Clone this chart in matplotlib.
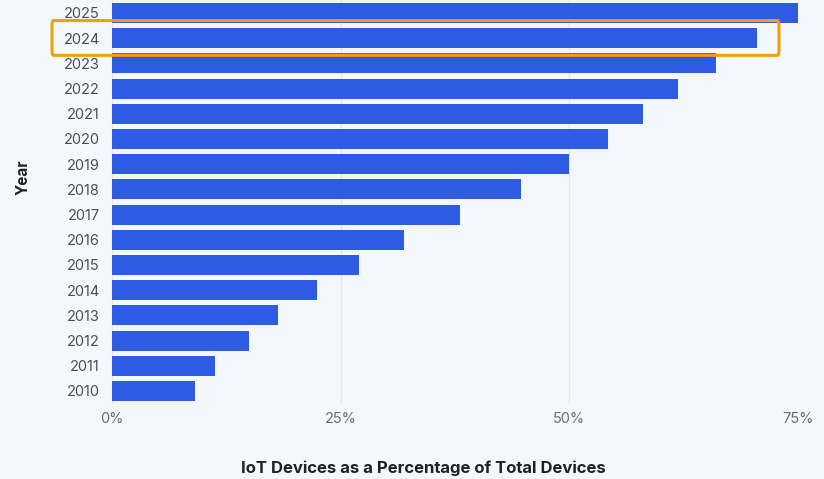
import matplotlib
matplotlib.use("Agg")
import matplotlib.pyplot as plt
from matplotlib.patches import FancyBboxPatch
from matplotlib.transforms import blended_transform_factory

years = ["2010", "2011", "2012", "2013", "2014", "2015", "2016", "2017",
         "2018", "2019", "2020", "2021", "2022", "2023", "2024", "2025"]
iot_share = [9.0, 11.2, 14.9, 18.1, 22.4, 27.0, 31.9, 38.0,
             44.7, 50.0, 54.2, 58.0, 61.9, 66.0, 70.5, 75.0]
x_ticks = [0, 25, 50, 75]
x_tick_labels = ["0%", "25%", "50%", "75%"]
highlight_year = "2024"

bg = "#F4F8FC"
bar_color = "#2D5BE3"

plt.rcParams["font.family"] = ["Inter", "DejaVu Sans"]

fig = plt.figure(figsize=(8.24, 4.79), dpi=100, facecolor=bg)
ax = fig.add_axes([112.3 / 824, 1 - 403.6 / 479, (798 - 112.3) / 824, (403.6 - 0.4) / 479])
ax.set_facecolor(bg)

pos = list(range(len(years)))
ax.barh(pos, iot_share, height=0.79, color=bar_color, zorder=3)
ax.set_ylim(-0.5, len(years) - 0.5)
ax.set_xlim(0, 75)
ax.set_yticks(pos)
ax.set_yticklabels(years)
ax.set_xticks(x_ticks)
ax.set_xticklabels(x_tick_labels)
ax.tick_params(axis="y", length=0, pad=9, labelsize=10.5, labelcolor="#4A4F57")
ax.tick_params(axis="x", length=0, pad=6, labelsize=10.5, labelcolor="#6A6F77")
for s in ax.spines.values():
    s.set_visible(False)
ax.grid(axis="x", color="#E3E8EE", linewidth=1, zorder=0)
ax.grid(axis="y", visible=False)

fig.text(240 / 824 + 183 / 824, 1 - 468 / 479, "IoT Devices as a Percentage of Total Devices",
         ha="center", va="center", fontsize=12, fontweight="bold", color="#1E2128")
fig.text(23 / 824, 1 - 177 / 479, "Year", ha="center", va="center", rotation=90,
         fontsize=11, fontweight="bold", color="#1E2128")

# highlight box around 2024
hi = years.index(highlight_year)
trans = blended_transform_factory(fig.transFigure, ax.transData)
x0, x1 = 52 / 824, 779 / 824
box = FancyBboxPatch((x0, hi - 0.68), x1 - x0, 1.38,
                     boxstyle="round,pad=0,rounding_size=0.002",
                     transform=trans, fill=False, edgecolor="#F59E0B",
                     linewidth=2.2, clip_on=False, zorder=5, mutation_aspect=100)
ax.add_artist(box)

fig.savefig("out.png", dpi=100, facecolor=bg)
